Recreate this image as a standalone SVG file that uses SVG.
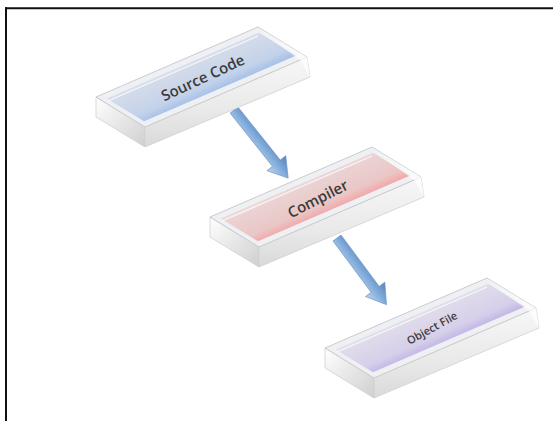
<svg xmlns="http://www.w3.org/2000/svg" xmlns:xlink="http://www.w3.org/1999/xlink" width="553" height="421" viewBox="0 0 553 421">
<style>
.frame{stroke:#111;stroke-width:2;fill:none}
.rim{fill:#eef0f3;stroke:#c9cbce;stroke-width:1}
.front{fill:url(#gFront);stroke:#d0d0d0;stroke-width:0.8}
.end{fill:url(#gEnd);stroke:#cfcfcf;stroke-width:0.8}
.lbl{font-family:"Open Sans","Liberation Sans",sans-serif;font-weight:600;fill:#3b3b3b;text-anchor:middle}
.shine{stroke:#ffffff;stroke-width:1.2;opacity:0.8;fill:none}
</style>
<defs>
<linearGradient id="gFront" x1="0" y1="0" x2="0" y2="1">
<stop offset="0" stop-color="#f7f7f7"/><stop offset="0.6" stop-color="#e9e9e9"/><stop offset="1" stop-color="#d9d9d9"/>
</linearGradient>
<linearGradient id="gEnd" x1="0" y1="0" x2="1" y2="1">
<stop offset="0" stop-color="#ffffff"/><stop offset="1" stop-color="#cfcfcf"/>
</linearGradient>
<linearGradient id="gBlue" gradientUnits="userSpaceOnUse" x1="177" y1="62" x2="196" y2="105">
<stop offset="0" stop-color="#e2e6ee"/><stop offset="0.2" stop-color="#d3dbe9"/><stop offset="0.7" stop-color="#c3d2ea"/><stop offset="0.9" stop-color="#a5c0e8"/><stop offset="1" stop-color="#bfd1ee"/>
</linearGradient>
<linearGradient id="gRed" gradientUnits="userSpaceOnUse" x1="177" y1="62" x2="196" y2="105">
<stop offset="0" stop-color="#eee2e2"/><stop offset="0.2" stop-color="#ead3d3"/><stop offset="0.7" stop-color="#ebc6c6"/><stop offset="0.9" stop-color="#f2a7a7"/><stop offset="1" stop-color="#efc4c4"/>
</linearGradient>
<linearGradient id="gPurple" gradientUnits="userSpaceOnUse" x1="177" y1="62" x2="196" y2="105">
<stop offset="0" stop-color="#e8e6ee"/><stop offset="0.2" stop-color="#dfdbea"/><stop offset="0.7" stop-color="#d6cfea"/><stop offset="0.9" stop-color="#c2b6e6"/><stop offset="1" stop-color="#d6cfee"/>
</linearGradient>
<linearGradient id="gGlass" gradientUnits="userSpaceOnUse" x1="240" y1="40" x2="307" y2="60">
<stop offset="0" stop-color="#ffffff" stop-opacity="0"/><stop offset="1" stop-color="#ffffff" stop-opacity="0.75"/>
</linearGradient>
<linearGradient id="gArrow" x1="0" y1="0" x2="0" y2="1">
<stop offset="0" stop-color="#5683bb"/><stop offset="0.45" stop-color="#7ca8d8"/><stop offset="1" stop-color="#bcd5ef"/>
</linearGradient>
<g id="slabBase">
<polygon class="end" points="96,97 145,127 145,147 96,117"/>
<polygon class="front" points="145,127 307,57 310,77 145,147"/>
<polygon class="rim" points="96,97 258,27 307,57 145,127"/>
</g>
</defs>

<g id="frame">
<line class="frame" x1="5" y1="8.3" x2="553" y2="8.3"/>
<line class="frame" x1="6" y1="7.3" x2="6" y2="421"/>
</g>

<g id="connectors">
<g transform="translate(234,110) rotate(51.5)">
<polygon points="0,-5 68,-5 68,-12 87,0 68,12 68,5 0,5" fill="url(#gArrow)" stroke="#6790c2" stroke-width="0.6"/>
</g>
<g transform="translate(337,238) rotate(53.4)">
<polygon points="0,-5 64,-5 64,-12 83,0 64,12 64,5 0,5" fill="url(#gArrow)" stroke="#6790c2" stroke-width="0.6"/>
</g>
</g>

<g id="source-code">
<use xlink:href="#slabBase"/>
<polygon points="106.7,98.5 259,32.7 296.2,55.5 144,121.3" fill="url(#gBlue)"/>
<line class="shine" x1="108" y1="101" x2="258" y2="36"/>
<polygon points="258,27 307,57 310,77 300,60 262,33" fill="url(#gGlass)"/>
<text class="lbl" font-size="15" transform="translate(203,78) rotate(-25)" dy="5">Source Code</text>
</g>

<g id="compiler" transform="translate(114,120)">
<use xlink:href="#slabBase"/>
<polygon points="106.7,98.5 259,32.7 296.2,55.5 144,121.3" fill="url(#gRed)"/>
<line class="shine" x1="108" y1="101" x2="258" y2="36"/>
<polygon points="258,27 307,57 310,77 300,60 262,33" fill="url(#gGlass)"/>
<text class="lbl" font-size="15" transform="translate(204,79) rotate(-27)" dy="5">Compiler</text>
</g>

<g id="object-file" transform="translate(229,251)">
<use xlink:href="#slabBase"/>
<polygon points="106.7,98.5 259,32.7 296.2,55.5 144,121.3" fill="url(#gPurple)"/>
<line class="shine" x1="108" y1="101" x2="258" y2="36"/>
<polygon points="258,27 307,57 310,77 300,60 262,33" fill="url(#gGlass)"/>
<text class="lbl" font-size="11" transform="translate(203,77) rotate(-29)" dy="4">Object File</text>
</g>
</svg>
